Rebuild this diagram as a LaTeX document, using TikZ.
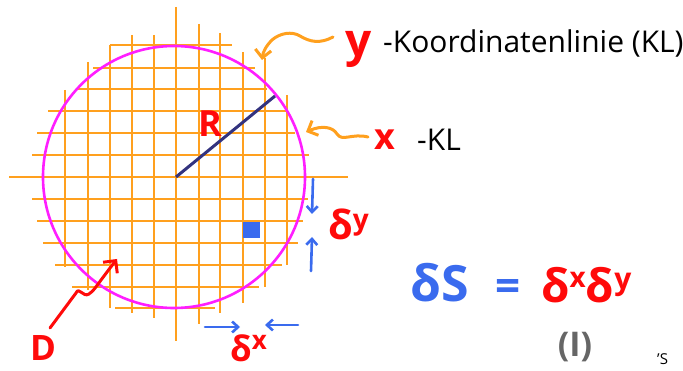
\documentclass[tikz,border=0pt]{standalone}
\usepackage{fontspec}
\setmainfont{Open Sans}
\usetikzlibrary{arrows.meta}
\definecolor{gridor}{HTML}{FFA01E}
\definecolor{circmag}{HTML}{FF1EFF}
\definecolor{navyline}{HTML}{33337F}
\definecolor{hred}{HTML}{FF0A0A}
\definecolor{hblue}{HTML}{3A6BEE}
\definecolor{hgray}{HTML}{666666}
\begin{document}
\begin{tikzpicture}[x=1pt,y=-1pt,
  gline/.style={draw=gridor,line width=2.2pt},
  ptr/.style={draw=gridor,line width=3pt,line cap=round,line join=round,-{Straight Barb[length=8pt,width=16pt,line width=3pt]}},
  rptr/.style={draw=hred,line width=3pt,line cap=round,line join=round,-{Straight Barb[length=9pt,width=18pt,line width=3pt]}},
  bptr/.style={draw=hblue,line width=2.6pt,line cap=round,-{Straight Barb[length=6pt,width=11pt,line width=2.6pt]}},
  hand/.style={inner sep=0pt,text=hred},
  txt/.style={inner sep=0pt,text=black,font=\fontsize{30}{32}\selectfont}]
\useasboundingbox (0,0) rectangle (683,371);
\clip (0,0) rectangle (683,371);
% grid
\foreach \x/\a/\b in {65/90/267, 88/62/290, 110/45/308, 132/35/313, 154/35/318, 176/7/341, 199/24/324, 220/33/313, 243/52/303, 265/58/287, 287/95/265}
  \draw[gline] (\x,\a) -- (\x,\b);
\foreach \y/\a/\b in {45/110/232, 68/93/255, 89/76/267, 111/48/288, 133/37/295, 155/32/309, 177/9/348, 199/32/308, 221/37/303, 243/43/298, 265/55/282, 287/72/259, 308/115/215}
  \draw[gline] (\a,\y) -- (\b,\y);
% circle
\node[draw=circmag,line width=2.6pt,circle,minimum size=262pt,inner sep=0pt] (C) at (174,177) {};
% radius
\coordinate (O) at (176,177);
\coordinate (P) at (275,96);
\draw[navyline,line width=3pt] (O) -- (P);
\node[hand,anchor=base,font=\bfseries\fontsize{36}{36}\selectfont] (R) at (210,137) {R};
% blue cell
\fill[hblue] (243,222) rectangle (260,238);
% labels top right
\node[hand,anchor=base,font=\bfseries\fontsize{46}{46}\selectfont] (ylab) at (359,57) {y};
\node[txt,anchor=base west] (kl) at (383,53) {-Koordinatenlinie (KL)};
\node[hand,anchor=base,font=\bfseries\fontsize{36}{36}\selectfont] (xlab) at (385,150) {x};
\node[txt,anchor=base west] (xkl) at (417,151) {-KL};
% pointer arrows
\coordinate (ys) at (333,37);
\coordinate (ye) at (262,60);
\draw[ptr] (ys) .. controls (320,44) and (310,42) .. (300,36) .. controls (292,31) and (280,33) .. (272,40) .. controls (266,46) and (263,52) .. (ye);
\coordinate (xs) at (368,137);
\coordinate (xe) at (306,132);
\draw[ptr] (xs) .. controls (352,133) and (342,142) .. (337,134) .. controls (333,127) and (322,125) .. (xe);
% D
\node[hand,anchor=base,font=\bfseries\fontsize{35}{35}\selectfont] (D) at (43,360) {D};
\coordinate (ds) at (50,328);
\coordinate (de) at (117,259);
\draw[rptr] (ds) -- (76,293) .. controls (79,286) and (83,298) .. (89,294) .. controls (94,291) and (96,286) .. (de);
% delta y arrows
\coordinate (dy1s) at (313,179); \coordinate (dy1e) at (312,214);
\coordinate (dy2s) at (311,271); \coordinate (dy2e) at (312,237);
\draw[bptr] (dy1s) -- (dy1e);
\draw[bptr] (dy2s) -- (dy2e);
\node[hand,anchor=base west,font=\bfseries\fontsize{40}{40}\selectfont] (dy) at (328,240) {δ\raisebox{10pt}{\fontsize{28}{28}\selectfont y}};
% delta x arrows
\coordinate (dx1s) at (205,327); \coordinate (dx1e) at (240,327);
\coordinate (dx2s) at (298,325); \coordinate (dx2e) at (265,325);
\draw[bptr] (dx1s) -- (dx1e);
\draw[bptr] (dx2s) -- (dx2e);
\node[hand,anchor=base west,font=\bfseries\fontsize{35}{35}\selectfont] (dx) at (230,362) {δ\raisebox{12pt}{\fontsize{26}{26}\selectfont x}};
% formula
\node[inner sep=0pt,text=hblue,anchor=base west,font=\bfseries\fontsize{50}{50}\selectfont] (dS) at (410,302) {δS};
\node[inner sep=0pt,text=hblue,anchor=base west,font=\bfseries\fontsize{44}{44}\selectfont] (eq) at (495,302) {=};
\node[hand,anchor=base west,font=\bfseries\fontsize{46}{46}\selectfont] (rhs) at (541,303) {δ\raisebox{15pt}{\fontsize{28}{28}\selectfont x}δ\raisebox{13pt}{\fontsize{30}{30}\selectfont y}};
\node[inner sep=0pt,text=hgray,anchor=base,font=\bfseries\fontsize{34}{34}\selectfont] (eqn) at (575,356) {(I)};
\node[txt,anchor=base west,font=\fontsize{15}{15}\selectfont] (cut) at (657,364) {'S};
\end{tikzpicture}
\end{document}
